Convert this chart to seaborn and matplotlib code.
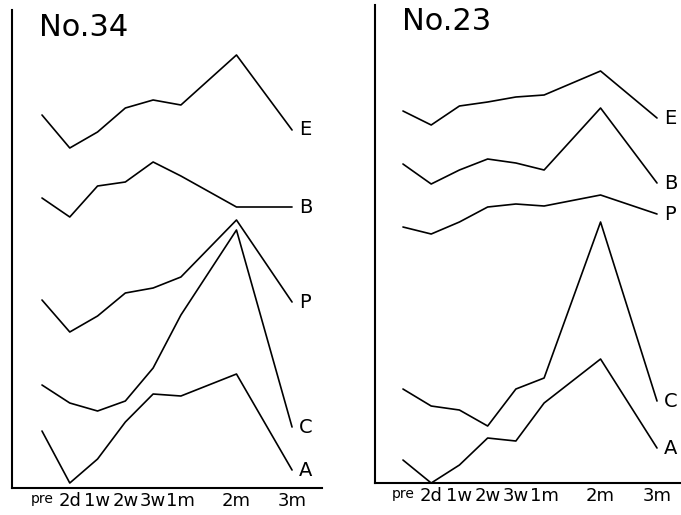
import pandas as pd
import matplotlib.pyplot as plt
import matplotlib.transforms as mtransforms
import seaborn as sns

# time points and their spacing on the axis (2m and 3m are stretched)
times = ["pre", "2d", "1w", "2w", "3w", "1m", "2m", "3m"]
positions = [0, 1, 2, 3, 4, 5, 7, 9]
series = ["E", "B", "P", "C", "A"]

# No.34 (relative heights)
no34_E = [373, 340, 356, 380, 388, 383, 433, 358]
no34_B = [290, 271, 302, 306, 326, 312, 281, 281]
no34_P = [188, 156, 172, 195, 200, 211, 268, 186]
no34_C = [103, 85, 77, 87, 120, 173, 258, 61]
no34_A = [57, 5, 29, 66, 94, 92, 114, 18]

# No.23
no23_E = [372, 358, 377, 381, 386, 388, 412, 365]
no23_B = [319, 299, 313, 324, 320, 313, 375, 300]
no23_P = [256, 249, 261, 276, 279, 277, 288, 269]
no23_C = [94, 77, 73, 57, 94, 105, 261, 82]
no23_A = [23, 0, 18, 45, 42, 80, 124, 35]


def make_df(vals):
    rows = []
    for name, ys in zip(series, vals):
        for t, p, y in zip(times, positions, ys):
            rows.append({"series": name, "time": t, "x": p, "value": y})
    return pd.DataFrame(rows)


df34 = make_df([no34_E, no34_B, no34_P, no34_C, no34_A])
df23 = make_df([no23_E, no23_B, no23_P, no23_C, no23_A])

sns.set_style("white")
plt.rcParams["text.color"] = "black"
plt.rcParams["xtick.color"] = "black"
plt.rcParams["xtick.labelcolor"] = "black"

fig = plt.figure(figsize=(6.81, 5.15), dpi=100)
ax1 = fig.add_axes([0.0176, 0.0524, 0.4553, 0.9282])
ax2 = fig.add_axes([0.5507, 0.0621, 0.4493, 0.9282])

panels = [
    (ax1, df34, "No.34", (-1.08, 10.08), (1.51, 460)),
    (ax2, df23, "No.23", (-0.99, 9.85), (1.56, 461)),
]

for ax, df, title, xlim, tpos in panels:
    sns.lineplot(data=df, x="x", y="value", hue="series", units="series",
                 estimator=None, palette=["black"] * 5, linewidth=1.2,
                 legend=False, ax=ax)
    # series letters at the right end of each line
    for name in series:
        last = df[(df["series"] == name) & (df["time"] == "3m")]["value"].iloc[0]
        ax.text(9.25, last, name, fontsize=14, ha="left", va="center",
                color="black", clip_on=False)
    ax.text(tpos[0], tpos[1], title, fontsize=22, ha="center", va="center",
            color="black", fontweight="medium")
    ax.set_xlim(*xlim)
    ax.set_ylim(0, 478)
    ax.set_xticks(positions)
    ax.set_xticklabels(times, fontsize=13)
    for lbl in ax.get_xticklabels():
        if lbl.get_text() == "pre":
            lbl.set_fontsize(10)
            lbl.set_transform(lbl.get_transform() + mtransforms.ScaledTranslation(
                -2 / 72, 3 / 72, fig.dpi_scale_trans))
    ax.set_yticks([])
    ax.set_xlabel("")
    ax.set_ylabel("")
    ax.tick_params(axis="x", direction="in", length=3, width=1, pad=3,
                   colors="black")
    sns.despine(ax=ax)
    for s in ["left", "bottom"]:
        ax.spines[s].set_color("black")
        ax.spines[s].set_linewidth(1.5)

fig.savefig("out.png", dpi=100)
